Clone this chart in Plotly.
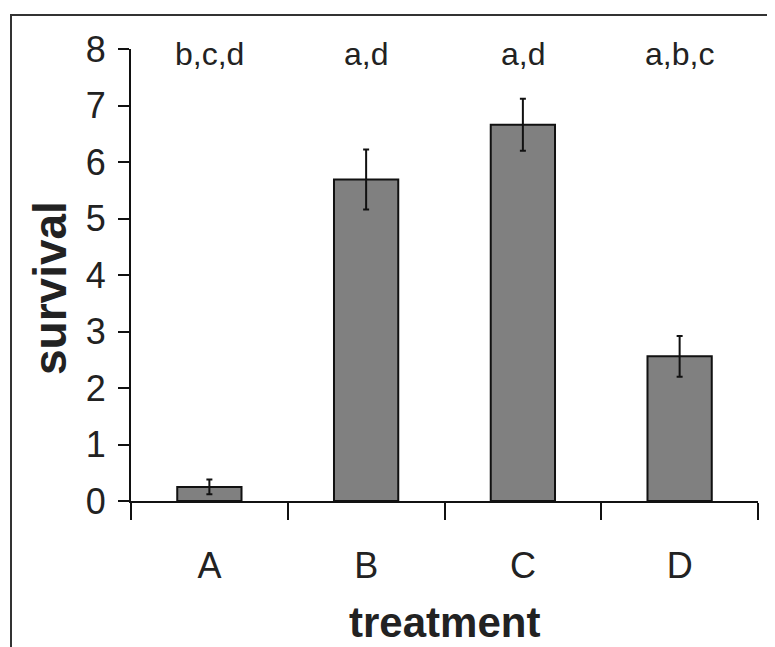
import plotly.graph_objects as go

categories = ["A", "B", "C", "D"]
survival = [0.25, 5.69, 6.66, 2.56]
errors = [0.13, 0.53, 0.46, 0.36]
group_letters = ["b,c,d", "a,d", "a,d", "a,b,c"]
y_ticks = [0, 1, 2, 3, 4, 5, 6, 7, 8]

FONT = "Arial, Liberation Sans, sans-serif"
W, H = 775, 647
L, R, T, B = 123, 25, 41, 154

fig = go.Figure()
fig.add_trace(go.Bar(
    x=categories, y=survival,
    marker=dict(color="#808080", line=dict(color="#111111", width=2)),
    width=0.41,
    error_y=dict(type="data", array=errors, visible=True,
                 color="#111111", thickness=2, width=3),
    showlegend=False,
))

for c, t in zip(categories, group_letters):
    fig.add_annotation(x=c, y=7.92, text=t, showarrow=False,
                       xref="x", yref="y", yanchor="middle",
                       font=dict(family=FONT, size=32, color="#222222"))

plot_w = W - L - R
plot_h = H - T - B
fig.add_annotation(text="<b>treatment</b>", showarrow=False,
                   xref="paper", yref="paper",
                   x=(436 - L) / plot_w, y=-(614 - (H - B)) / plot_h,
                   xanchor="center", yanchor="middle",
                   font=dict(family=FONT, size=42, color="#222222"))
fig.add_annotation(text="<b>survival</b>", showarrow=False,
                   xref="paper", yref="paper", textangle=-90,
                   x=(42 - L) / plot_w, y=((H - B) - 280) / plot_h,
                   xanchor="center", yanchor="middle",
                   font=dict(family=FONT, size=46, color="#222222"))

# outer frame
fig.add_shape(type="rect", xref="paper", yref="paper",
              x0=(3 - L) / plot_w, x1=(790 - L) / plot_w,
              y0=-(700 - (H - B)) / plot_h, y1=((H - B) - 7) / plot_h,
              line=dict(color="#333333", width=2), fillcolor="rgba(0,0,0,0)",
              layer="below")

fig.update_layout(
    width=W, height=H,
    margin=dict(l=L, r=R, t=T, b=B, pad=0),
    paper_bgcolor="white", plot_bgcolor="white",
    font=dict(family=FONT, color="#222222"),
    xaxis=dict(type="category", range=[-0.5, 3.5], tickson="boundaries",
               ticks="outside", ticklen=17, tickwidth=2, tickcolor="#111111",
               showline=True, linecolor="#111111", linewidth=2,
               showgrid=False, zeroline=False,
               tickfont=dict(family=FONT, size=36, color="#222222"),
               ticklabelstandoff=32),
    yaxis=dict(range=[0, 8], tickvals=y_ticks,
               ticks="outside", ticklen=11, tickwidth=2, tickcolor="#111111",
               showline=True, linecolor="#111111", linewidth=2,
               showgrid=False, zeroline=False,
               tickfont=dict(family=FONT, size=36, color="#222222"),
               ticklabelstandoff=5),
)

fig.write_html("out.html")
